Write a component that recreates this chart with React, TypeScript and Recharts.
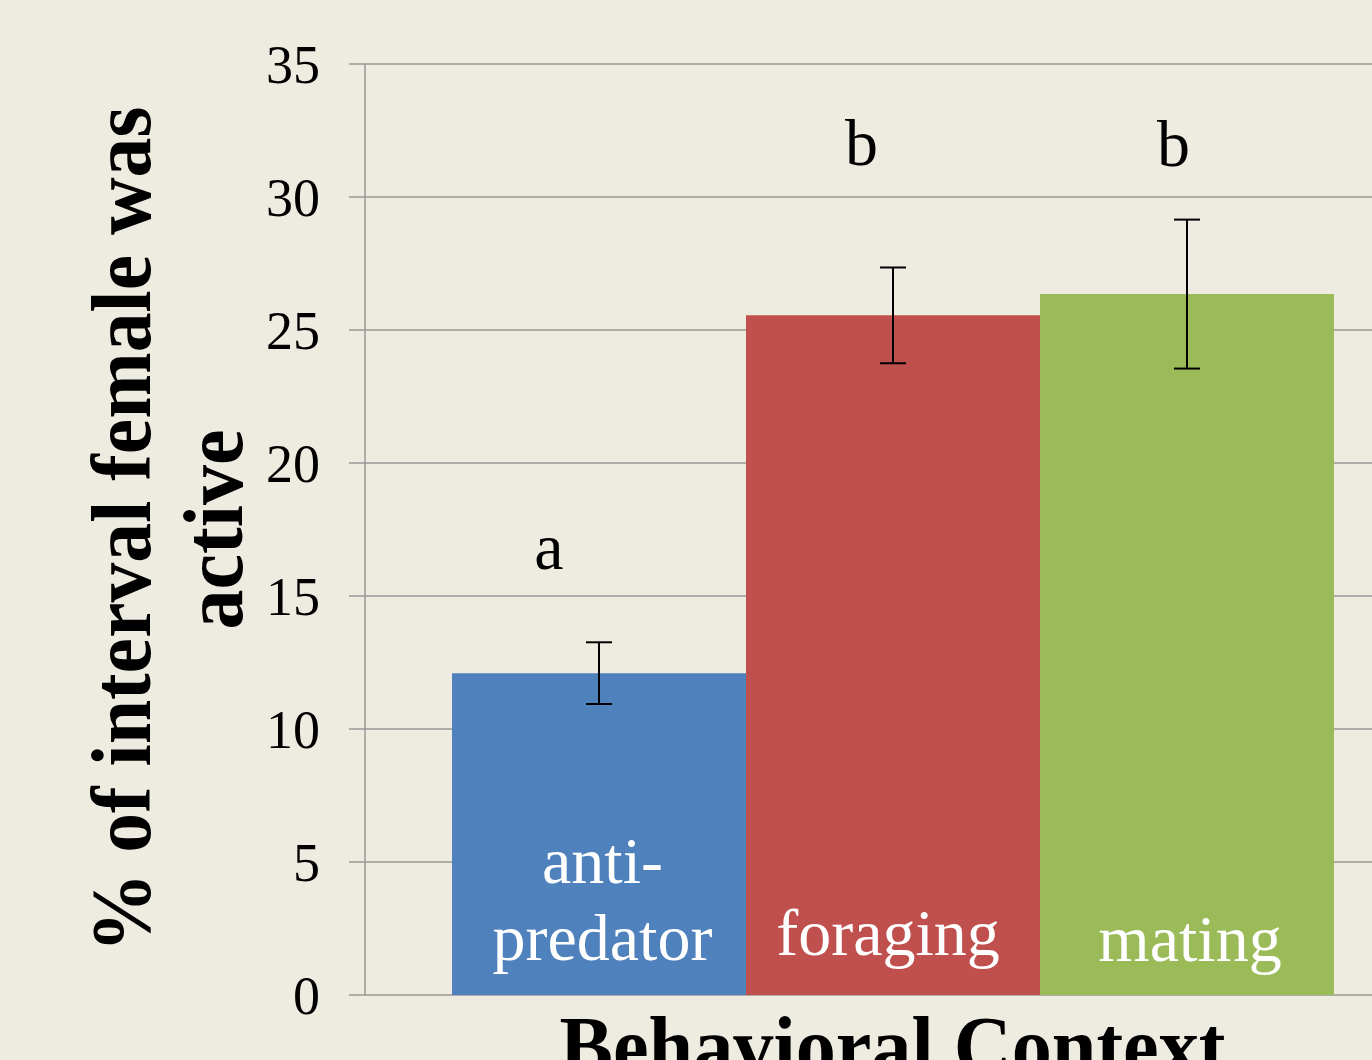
import React from 'react';
import { BarChart, Bar, XAxis, YAxis, CartesianGrid, ErrorBar, LabelList } from 'recharts';

// values
const contexts = ['anti-predator', 'foraging', 'mating'];
const contextLines = [['anti-', 'predator'], ['foraging'], ['mating']];
const activity = [12.1, 25.55, 26.35];
const activityErr = [1.16, 1.8, 2.8];
const groupLetters = ['a', 'b', 'b'];
const yTicks = [0, 5, 10, 15, 20, 25, 30, 35];
const barColors = ['#4F81BD', '#C0504D', '#9BBB59'];

const row: Record<string, string | number> = { context: 'Behavioral Context' };
contexts.forEach((c, i) => {
  row[`v${i}`] = activity[i];
  row[`e${i}`] = activityErr[i];
});
const data = [row];

const SERIF = '"Liberation Serif", "Times New Roman", serif';
const BG = '#EEEBE0';
const GRID = '#989898';

// label placement relative to each bar (letter above, name inside at the bottom)
const labelPlacement = [
  { letterDx: -50, letterDy: -104, nameDx: 3.5, nameDy: -35 },
  { letterDx: -31.5, letterDy: -150, nameDx: -5, nameDy: -40 },
  { letterDx: -13.5, letterDy: -128, nameDx: 3, nameDy: -34 },
];

const makeBarLabel = (i: number) => (props: any) => {
  const x = Number(props.x);
  const y = Number(props.y);
  const w = Number(props.width);
  const h = Number(props.height);
  const cx = x + w / 2;
  const bottom = y + h;
  const p = labelPlacement[i];
  const lines = contextLines[i];
  return (
    <g>
      <text x={cx + p.letterDx} y={y + p.letterDy} textAnchor="middle" fontFamily={SERIF} fontSize={66} fill="#000">
        {groupLetters[i]}
      </text>
      {lines.map((ln, k) => (
        <text
          key={k}
          x={cx + p.nameDx}
          y={bottom + p.nameDy - (lines.length - 1 - k) * 77}
          textAnchor="middle"
          fontFamily={SERIF}
          fontSize={66}
          fill="#fff"
        >
          {ln}
        </text>
      ))}
    </g>
  );
};

// axis titles (y title in two lines, x title cut off by the bottom edge)
const AxisTitles = (props: any) => {
  const vb = props.viewBox || {};
  const cy = vb.height ? vb.y + vb.height / 2 : 529;
  return (
    <g>
      <text
        x={150}
        y={cy}
        transform={`rotate(-90 150 ${cy})`}
        textAnchor="middle"
        fontFamily={SERIF}
        fontWeight="bold"
        fontSize={84}
        textLength={846}
        lengthAdjust="spacingAndGlyphs"
        fill="#000"
      >
        % of interval female was
      </text>
      <text
        x={242}
        y={cy}
        transform={`rotate(-90 242 ${cy})`}
        textAnchor="middle"
        fontFamily={SERIF}
        fontWeight="bold"
        fontSize={84}
        textLength={200}
        lengthAdjust="spacingAndGlyphs"
        fill="#000"
      >
        active
      </text>
      <text
        x={892.5}
        y={1075}
        textAnchor="middle"
        fontFamily={SERIF}
        fontWeight="bold"
        fontSize={84}
        textLength={666}
        lengthAdjust="spacingAndGlyphs"
        fill="#000"
      >
        Behavioral Context
      </text>
    </g>
  );
};

export default function App() {
  return (
    <div style={{ position: 'absolute', left: 0, top: 0, width: 1372, height: 1060, overflow: 'hidden', background: BG }}>
      <BarChart
        width={1421}
        height={1060}
        data={data}
        margin={{ top: 64, right: 1, left: 0, bottom: 65 }}
        barCategoryGap={87}
        barGap={0}
      >
        <CartesianGrid horizontal vertical={false} stroke={GRID} strokeWidth={1.5} />
        <XAxis dataKey="context" hide />
        <YAxis
          width={365}
          domain={[0, 35]}
          ticks={yTicks}
          interval={0}
          tickSize={16}
          tickMargin={29}
          axisLine={{ stroke: GRID, strokeWidth: 1.5 }}
          tickLine={{ stroke: GRID, strokeWidth: 1.5 }}
          tick={{ fontFamily: SERIF, fontSize: 54, fill: '#000' }}
          label={{ content: AxisTitles }}
        />
        {contexts.map((c, i) => (
          <Bar key={c} dataKey={`v${i}`} name={c} fill={barColors[i]} isAnimationActive={false}>
            <ErrorBar dataKey={`e${i}`} width={13} strokeWidth={2} stroke="#000" direction="y" isAnimationActive={false} />
            <LabelList dataKey={`v${i}`} content={makeBarLabel(i)} />
          </Bar>
        ))}
      </BarChart>
    </div>
  );
}
